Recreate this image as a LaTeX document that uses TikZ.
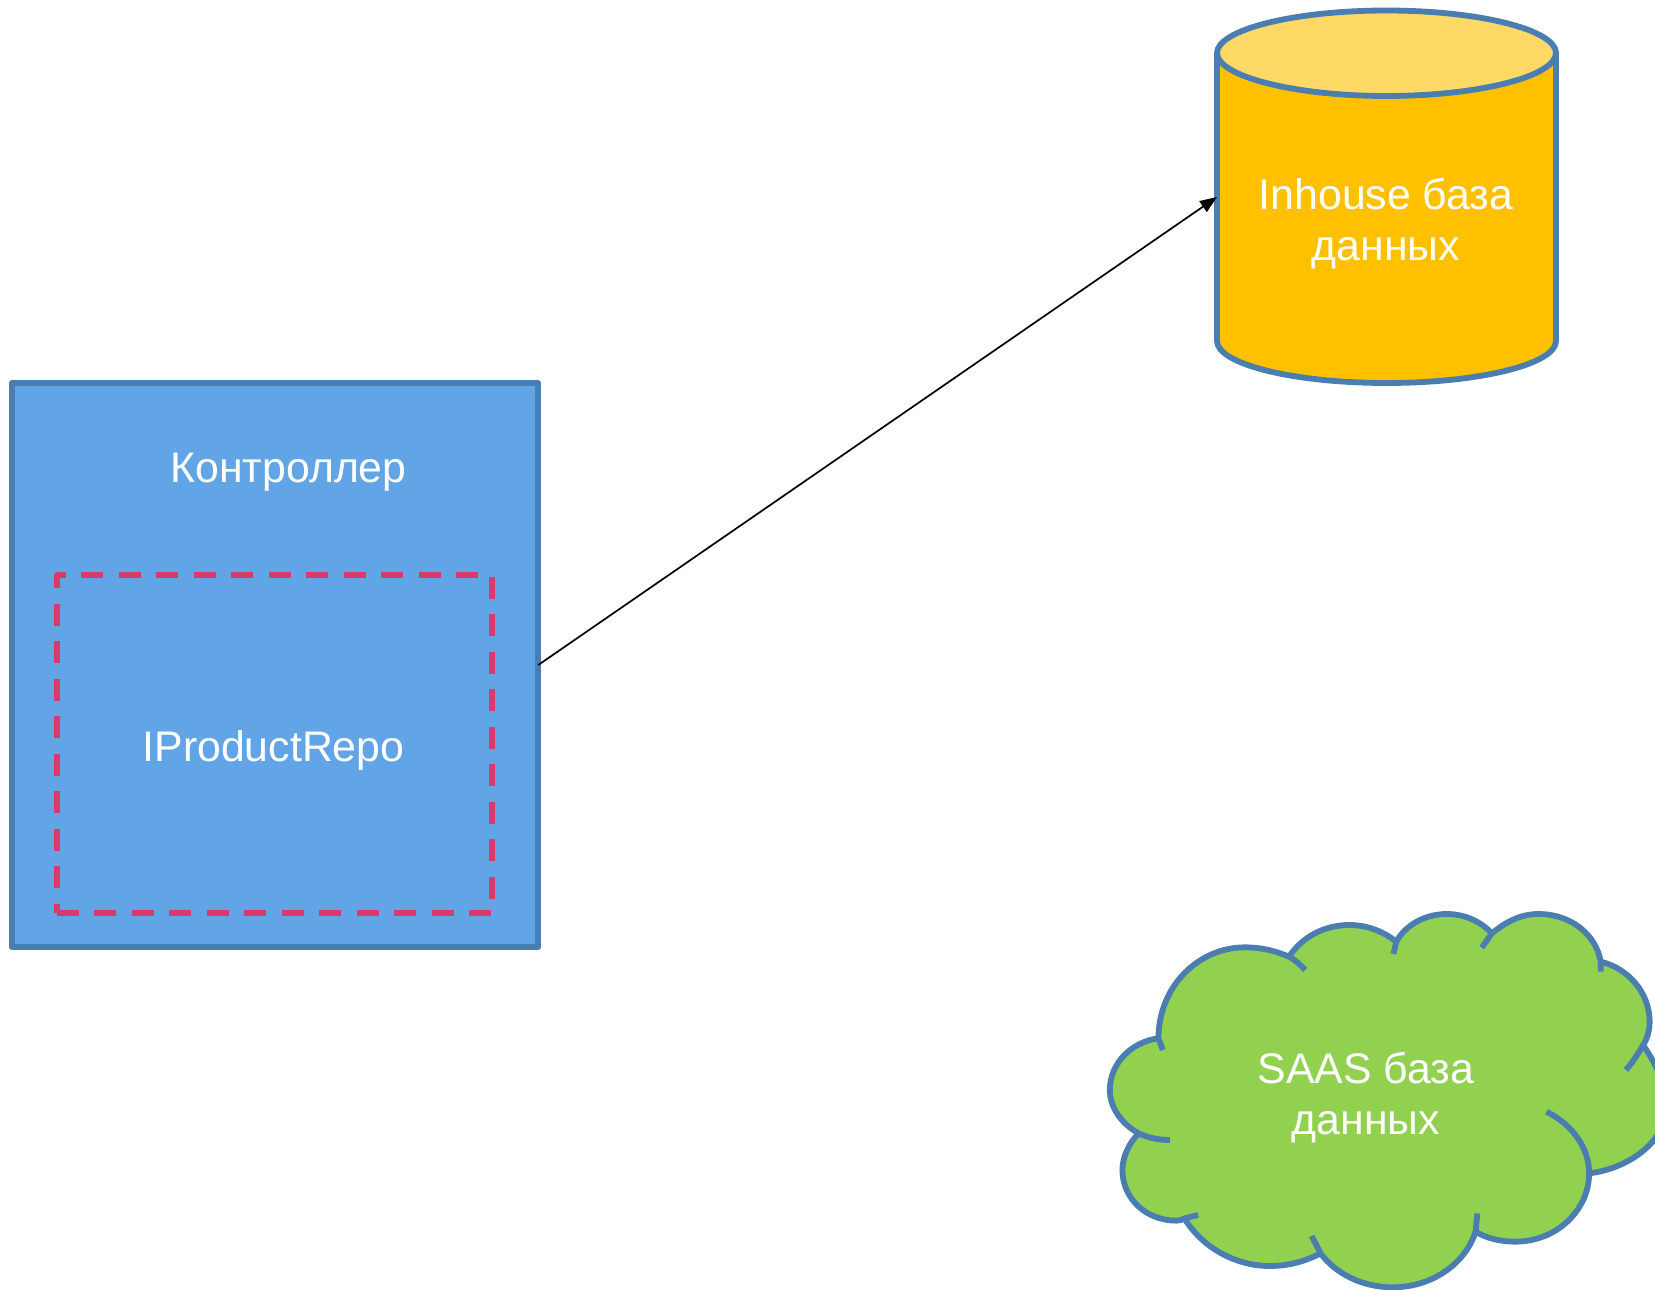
\documentclass[tikz,border=0pt]{standalone}
\usepackage{fontspec}
\setmainfont{Liberation Sans}
\usetikzlibrary{arrows.meta}
\definecolor{edgeblue}{HTML}{4A7DB0}
\definecolor{boxblue}{HTML}{62A5E6}
\definecolor{dashred}{HTML}{DA3A69}
\definecolor{cylbody}{HTML}{FFC000}
\definecolor{cyltop}{HTML}{FFD966}
\definecolor{cloudgreen}{HTML}{92D050}
\newcommand\lobeA{.. controls (85,700) and (55,650) .. (55,600) .. controls (55,520) and (115,455) .. (190,445)}
\newcommand\lobeB{.. controls (190,290) and (300,172) .. (430,172) .. controls (480,172) and (520,185) .. (552,200)}
\newcommand\lobeC{.. controls (590,140) and (650,105) .. (720,105) .. controls (770,105) and (815,125) .. (850,155)}
\newcommand\lobeD{.. controls (875,105) and (930,72) .. (990,72) .. controls (1040,72) and (1085,95) .. (1115,130)}
\newcommand\lobeE{.. controls (1155,95) and (1195,72) .. (1245,72) .. controls (1335,72) and (1405,135) .. (1417,215)}
\newcommand\lobeF{.. controls (1495,235) and (1553,310) .. (1553,395) .. controls (1553,420) and (1547,445) .. (1535,465)}
\newcommand\lobeG{.. controls (1575,530) and (1600,590) .. (1600,650) .. controls (1600,750) and (1500,835) .. (1385,850)}
\newcommand\lobeH{.. controls (1385,960) and (1295,1055) .. (1180,1055) .. controls (1140,1055) and (1100,1045) .. (1070,1025)}
\newcommand\lobeI{.. controls (1040,1125) and (945,1192) .. (840,1192) .. controls (755,1192) and (680,1150) .. (640,1090)}
\newcommand\lobeJ{.. controls (595,1115) and (550,1128) .. (500,1128) .. controls (400,1128) and (310,1070) .. (262,985)}
\newcommand\lobeK{.. controls (255,990) and (248,992) .. (240,992) .. controls (155,992) and (90,925) .. (90,840) .. controls (90,800) and (108,760) .. (135,730)}
\tikzset{
  x=1pt,y=-1pt,
  edgeline/.style={draw=edgeblue,line width=5.8pt},
  label text/.style={text=white,font=\fontsize{42.8}{51}\selectfont,align=center,inner sep=0pt},
  ctrlbox/.style={draw=edgeblue,line width=5.8pt,line join=round,fill=boxblue,minimum width=526.5pt,minimum height=564pt,inner sep=0pt,outer sep=0pt},
  repobox/.style={draw=dashred,line width=5.6pt,line join=round,dash pattern=on 22pt off 15.5pt,minimum width=435.5pt,minimum height=338pt,inner sep=0pt,outer sep=0pt},
  anchorbox/.style={minimum width=339pt,minimum height=373pt,inner sep=0pt,outer sep=0pt},
  flow/.style={draw=black,line width=1.7pt,-{Triangle[length=17pt,width=13pt]}}
}
\begin{document}
\begin{tikzpicture}
\useasboundingbox (0,0) rectangle (1655,1290);
% controller
\node[ctrlbox] (ctrl) at (275,665) {};
\node[repobox] (repo) at (274.5,744) {};
\node[label text] (ctrltext) at (288.5,472.5) {Контроллер};
\node[label text] (repotext) at (273.5,750.5) {IProductRepo};
% cylinder
\node[anchorbox] (db) at (1386.5,197) {};
\path[edgeline,fill=cylbody,line join=round] (1217,53) -- (1217,341)
  .. controls (1217,364) and (1293,383) .. (1386.5,383)
  .. controls (1480,383) and (1556,364) .. (1556,341) -- (1556,53) -- cycle;
\path[edgeline,fill=cyltop] (1217,53)
  .. controls (1217,30) and (1293,10.5) .. (1386.5,10.5)
  .. controls (1480,10.5) and (1556,30) .. (1556,53)
  .. controls (1556,76) and (1480,96) .. (1386.5,96)
  .. controls (1293,96) and (1217,76) .. (1217,53) -- cycle;
\node[label text] (dbtext) at (1386,223.5) {Inhouse база\\данных};
% cloud
\begin{scope}
\clip (0,0) rectangle (1655,1290);
\begin{scope}[shift={(1090,890)},x=0.36036pt,y=-0.33333pt,line cap=butt]
\fill[cloudgreen] (135,730) \lobeA \lobeB \lobeC \lobeD \lobeE \lobeF \lobeG \lobeH \lobeI \lobeJ \lobeK -- cycle;
\draw[edgeline] (222,750) .. controls (195,750) and (165,745) .. (135,730) \lobeA;
\draw[edgeline] (202,480) -- (190,445) \lobeB .. controls (568,208) and (583,224) .. (597,240);
\draw[edgeline] (552,200) \lobeC;
\draw[edgeline] (842,192) -- (850,155) \lobeD;
\draw[edgeline] (1087,173) -- (1115,130) \lobeE -- (1417,245);
\draw[edgeline] (1417,215) \lobeF .. controls (1522,490) and (1505,518) .. (1487,540);
\draw[edgeline] (1535,465) \lobeG;
\draw[edgeline] (1267,665) .. controls (1340,705) and (1385,775) .. (1385,850) \lobeH -- (1075,970);
\draw[edgeline] (1070,1025) \lobeI -- (615,1038);
\draw[edgeline] (640,1090) \lobeJ;
\draw[edgeline] (300,975) -- (262,985) \lobeK;
\end{scope}
\end{scope}
\node[label text] (cloudtext) at (1366,1097.5) {SAAS база\\данных};
% connector
\draw[flow] (ctrl.east) -- (db.west);
\end{tikzpicture}
\end{document}
